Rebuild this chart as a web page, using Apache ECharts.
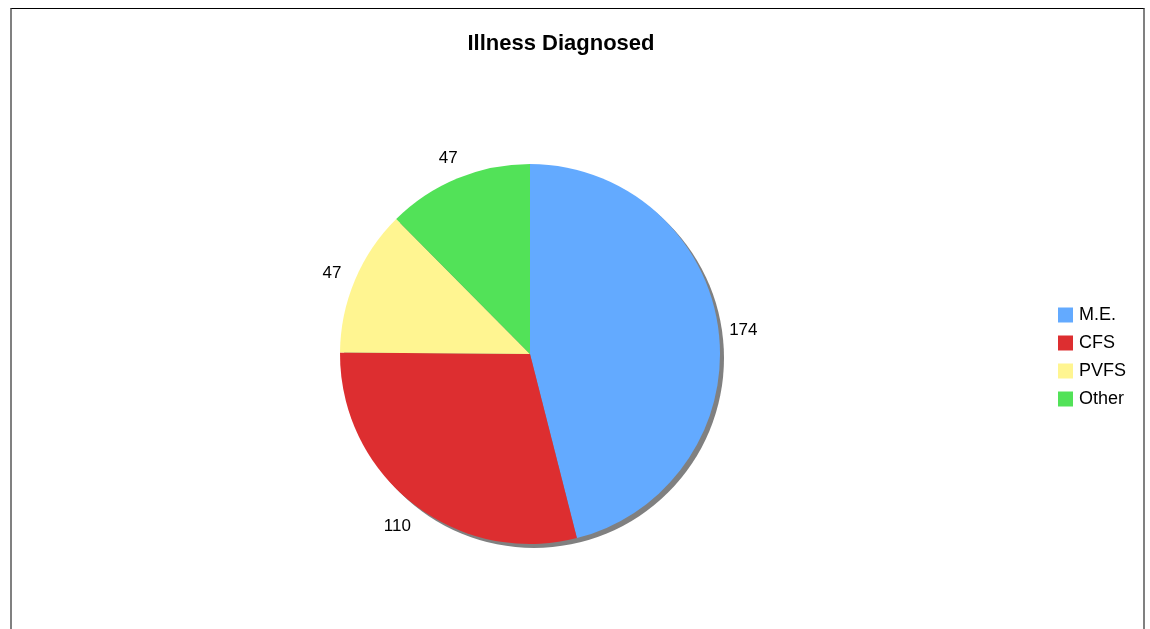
<!DOCTYPE html>
<html>
<head>
<meta charset="utf-8">
<title>Illness Diagnosed</title>
<script src="https://cdn.jsdelivr.net/npm/echarts@6/dist/echarts.min.js"></script>
<style>
  html, body { margin: 0; padding: 0; background: #fff; overflow: hidden; }
  #frame {
    position: absolute; left: 10px; top: 8px; width: 1131px; height: 700px;
    border-top: 1px solid #000; border-left: 2px solid #808080; border-right: 2px solid #808080;
  }
  #chart { position: absolute; left: 0; top: 0; width: 1150px; height: 629px; }
</style>
</head>
<body>
<div id="frame"></div>
<div id="chart"></div>
<script>
// Diagnosis counts
const categories = ['M.E.', 'CFS', 'PVFS', 'Other'];
const counts = [174, 110, 47, 47];
const palette = ['#63AAFF', '#DD2E30', '#FFF591', '#52E258'];

const FONT = '"Liberation Sans", Arial, Helvetica, sans-serif';
const CENTER = [530, 354];
const RADIUS = 190;

const sliceData = categories.map((name, i) => ({
  name,
  value: counts[i],
  itemStyle: { color: palette[i] }
}));

const chart = echarts.init(document.getElementById('chart'), null, { renderer: 'canvas' });

chart.setOption({
  backgroundColor: 'transparent',
  animation: false,
  title: {
    text: 'Illness Diagnosed',
    left: 561,
    top: 33,
    padding: 0,
    textAlign: 'center',
    textStyle: { fontFamily: FONT, fontSize: 22, fontWeight: 'bold', color: '#000' }
  },
  legend: {
    orient: 'vertical',
    left: 1058,
    top: 306,
    padding: 0,
    itemWidth: 15,
    itemHeight: 15,
    itemGap: 10,
    icon: 'rect',
    data: categories.map((name, i) => ({ name, itemStyle: { color: palette[i] } })),
    textStyle: { fontFamily: FONT, fontSize: 18, color: '#000', padding: [0, 0, 0, 1] }
  },
  series: [
    {
      // drop shadow disc behind the pie
      type: 'pie',
      silent: true,
      center: [CENTER[0] + 4, CENTER[1] + 4],
      radius: RADIUS,
      label: { show: false },
      labelLine: { show: false },
      itemStyle: { color: '#808080', borderWidth: 0 },
      data: [{ name: '', value: 1 }]
    },
    {
      type: 'pie',
      center: CENTER,
      radius: RADIUS,
      startAngle: 90,
      clockwise: true,
      label: { show: false },
      labelLine: { show: false },
      itemStyle: { borderWidth: 0 },
      emphasis: { disabled: true },
      data: sliceData
    },
    {
      // value labels placed in a transparent ring around the pie
      type: 'pie',
      silent: true,
      center: CENTER,
      radius: [RADIUS + 8, RADIUS + 36],
      startAngle: 90,
      clockwise: true,
      itemStyle: { color: 'rgba(0,0,0,0)', borderWidth: 0 },
      label: {
        show: true,
        position: 'inside',
        formatter: '{c}',
        fontFamily: FONT,
        fontSize: 17,
        color: '#000',
        offset: [0, 3]
      },
      labelLine: { show: false },
      emphasis: { disabled: true },
      data: categories.map((name, i) => ({ name, value: counts[i] }))
    }
  ]
});
</script>
</body>
</html>
